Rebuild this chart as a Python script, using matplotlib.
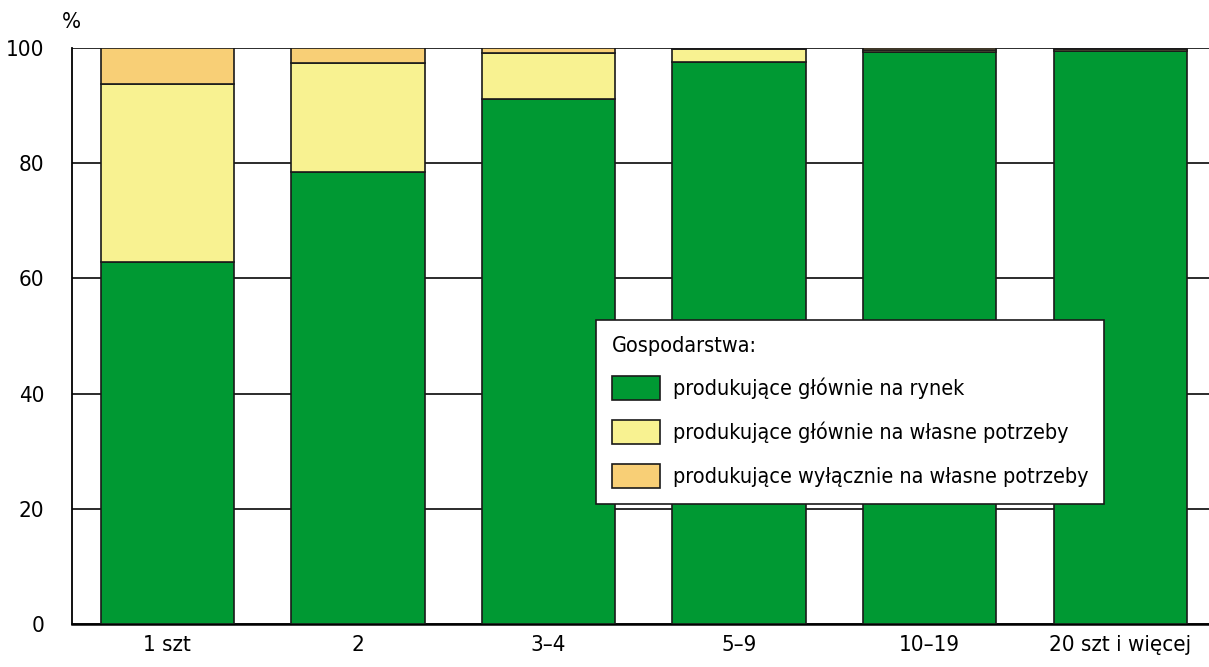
import matplotlib.pyplot as plt
import numpy as np
from matplotlib import font_manager

names = {f.name for f in font_manager.fontManager.ttflist}
if 'Liberation Sans Narrow' in names:
    plt.rcParams['font.family'] = ['Liberation Sans Narrow', 'DejaVu Sans']
else:
    plt.rcParams['font.family'] = ['DejaVu Sans']
    plt.rcParams['font.stretch'] = 'condensed'

categories = ['1 szt', '2', '3–4', '5–9', '10–19', '20 szt i więcej']
rynek = [62.8, 78.5, 91.1, 97.5, 99.3, 99.5]
wlasne = [31.0, 18.9, 8.0, 2.4, 0.4, 0.3]
wylacznie = [6.2, 2.6, 0.9, 0.1, 0.3, 0.2]

labels = ['produkujące głównie na rynek',
          'produkujące głównie na własne potrzeby',
          'produkujące wyłącznie na własne potrzeby']
colors = ['#009933', '#F8F291', '#F8CF76']

fig = plt.figure(figsize=(12.09, 6.67), dpi=100)
ax = fig.add_axes([72 / 1209, 43 / 667, 1 - 72 / 1209, 576 / 667])

x = np.arange(len(categories))
bottom = np.zeros(len(categories))
for vals, lab, col in zip([rynek, wlasne, wylacznie], labels, colors):
    ax.bar(x, vals, width=0.7, bottom=bottom, color=col, edgecolor='#1a1a1a',
           linewidth=1.2, label=lab, zorder=3)
    bottom += np.array(vals)

ax.set_ylim(0, 100)
ax.set_xlim(-0.5, 5.465)
ax.set_yticks([0, 20, 40, 60, 80, 100])
ax.set_xticks(x)
ax.set_xticklabels(categories)
ax.tick_params(axis='both', length=0, labelsize=16)
ax.tick_params(axis='x', pad=8)
ax.tick_params(axis='y', pad=20)
ax.yaxis.grid(True, color='#1a1a1a', linewidth=1.3, zorder=0)
ax.set_axisbelow(True)
for s in ['top', 'right']:
    ax.spines[s].set_visible(False)
ax.spines['left'].set_linewidth(1.3)
ax.spines['bottom'].set_linewidth(1.8)

fig.text(62 / 1209, 1 - 22 / 667, '%', fontsize=16, va='center', ha='left')

leg = ax.legend(loc='upper left', bbox_to_anchor=(0.461, 0.528), borderaxespad=0,
                title='Gospodarstwa:', fontsize=15.5, title_fontsize=15.5,
                fancybox=False, edgecolor='#1a1a1a', framealpha=1,
                handlelength=2.2, handleheight=1.3, labelspacing=0.95,
                borderpad=0.75, handletextpad=0.6)
leg._legend_box.align = 'left'
leg.get_frame().set_linewidth(1.2)
leg.set_zorder(5)

fig.savefig('out.png', dpi=100)
